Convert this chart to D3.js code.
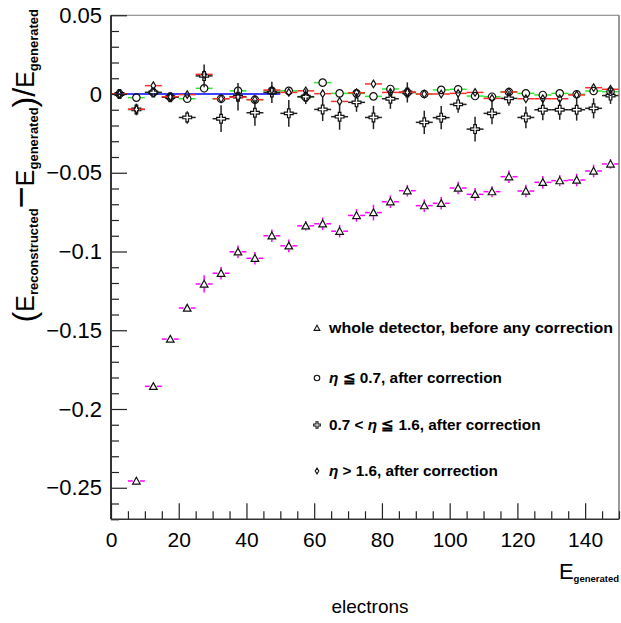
<!DOCTYPE html>
<html><head><meta charset="utf-8">
<script src="https://cdn.jsdelivr.net/npm/d3@7"></script>
<style>body{margin:0;background:#fff} svg{display:block;background:#fff}</style>
</head><body>
<svg id="c" width="621" height="623"></svg>
<script>
// ---------------- data ----------------
const energies = [2.5,7.5,12.5,17.5,22.5,27.5,32.5,37.5,42.5,47.5,52.5,57.5,62.5,67.5,72.5,77.5,82.5,87.5,92.5,97.5,102.5,107.5,112.5,117.5,122.5,127.5,132.5,137.5,142.5,147.5];
const binHalfWidth = 2.5;
// whole detector, before any correction (first bin empty)
const wholeDetector = [null,-0.2457,-0.1856,-0.1556,-0.1359,-0.1206,-0.1138,-0.1002,-0.1043,-0.0900,-0.0964,-0.0837,-0.0824,-0.0871,-0.0771,-0.0753,-0.0684,-0.0614,-0.0709,-0.0694,-0.0597,-0.0637,-0.0620,-0.0525,-0.0616,-0.0561,-0.0550,-0.0546,-0.0489,-0.0444];
const wholeDetectorErr = [0,0.001,0.001,0.0015,0.002,0.0055,0.004,0.004,0.004,0.004,0.004,0.003,0.004,0.004,0.004,0.005,0.004,0.0037,0.004,0.004,0.004,0.004,0.0035,0.004,0.004,0.004,0.0035,0.004,0.004,0.003];
// eta <= 0.7, after correction
const etaLow = [0,-0.0023,0.001,-0.002,-0.003,0.0036,-0.003,0.002,-0.0036,0.002,0.002,-0.002,0.0072,0.0004,0.0004,-0.0015,0.0032,0.001,0,0.0026,0.003,-0.0013,-0.0017,0.0013,0.0004,-0.0006,0.0004,-0.0002,0.0019,0.0015];
const etaLowErr = [0.001,0.0015,0.0015,0.0015,0.0015,0.002,0.0015,0.0015,0.0015,0.0015,0.0015,0.0015,0.0015,0.0015,0.0015,0.0015,0.0015,0.0015,0.0015,0.0015,0.0015,0.0015,0.0015,0.0015,0.0015,0.0015,0.0015,0.0015,0.0015,0.0015];
// 0.7 < eta <= 1.6, after correction
const etaMid = [0,-0.0098,0.001,-0.002,-0.0149,0.0115,-0.0157,-0.0017,-0.0119,0.001,-0.0123,-0.0017,-0.0098,-0.0144,-0.0053,-0.0149,-0.003,0.001,-0.018,-0.015,-0.0066,-0.0223,-0.0123,-0.0028,-0.0149,-0.010,-0.010,-0.010,-0.0091,-0.001];
const etaMidErr = [0.001,0.0037,0.003,0.002,0.004,0.0072,0.0085,0.0087,0.0083,0.0067,0.0085,0.0047,0.0074,0.0083,0.006,0.0074,0.0064,0.0064,0.0074,0.0074,0.0053,0.0079,0.0069,0.0047,0.0069,0.0066,0.0064,0.0069,0.0064,0.0053];
// eta > 1.6, after correction
const etaHigh = [0,-0.0097,0.0053,-0.0017,-0.0004,0.0125,-0.003,-0.002,-0.0036,0.0025,0.001,0.002,0.0002,-0.0047,0.0008,0.0064,0.001,0.0012,0,0,0.0004,0.001,-0.0028,0.0013,-0.003,-0.003,-0.003,-0.0006,0.004,0.003];
const etaHighErr = [0.001,0.0015,0.0015,0.0015,0.0015,0.002,0.0015,0.0015,0.0015,0.0015,0.0015,0.0015,0.0015,0.0015,0.0015,0.0015,0.0015,0.0015,0.0015,0.0015,0.0015,0.0015,0.0015,0.0015,0.0015,0.0015,0.0015,0.0015,0.0015,0.0015];
const referenceLineX = [0, 50];
const xTicks = [0,20,40,60,80,100,120,140];
const yTicks = [0.05,0,-0.05,-0.1,-0.15,-0.2,-0.25];
const yTickLabels = ["0.05","0","\u22120.05","\u22120.1","\u22120.15","\u22120.2","\u22120.25"];
const legendLabels = ["whole detector, before any correction","\u03b7 \u2266 0.7, after correction","0.7 < \u03b7 \u2266 1.6, after correction","\u03b7 > 1.6, after correction"];

// ---------------- layout ----------------
const svg = d3.select("#c");
const x = d3.scaleLinear().domain([0,150]).range([111,619]);
const y = d3.scaleLinear().domain([-0.27,0.05]).range([519.25,15.25]);
const axisColor = "#222";
const font = "Liberation Sans, Arial, sans-serif";

// marker shapes
const shapes = {
  triangle: {path: s => `M0,${-3.7*s}L${3.8*s},${3.1*s}L${-3.8*s},${3.1*s}Z`, half: 3.6},
  circle: {path: s => { const r=3.7*s; return `M${-r},0A${r},${r} 0 1,0 ${r},0A${r},${r} 0 1,0 ${-r},0Z`; }, half: 3.7},
  cross: {path: s => { const a=4.4*s,b=1.3*s; return `M${-b},${-a}L${b},${-a}L${b},${-b}L${a},${-b}L${a},${b}L${b},${b}L${b},${a}L${-b},${a}L${-b},${b}L${-a},${b}L${-a},${-b}L${-b},${-b}Z`; }, half: 4.4},
  diamond: {path: s => `M0,${-3.8*s}L${2.4*s},0L0,${3.8*s}L${-2.4*s},0Z`, half: 3.0}
};

const series = [
  {vals: wholeDetector, errs: wholeDetectorErr, shape: "triangle", color: "#ff00ff"},
  {vals: etaLow, errs: etaLowErr, shape: "circle", color: "#2ee82e"},
  {vals: etaMid, errs: etaMidErr, shape: "cross", color: "#222"},
  {vals: etaHigh, errs: etaHighErr, shape: "diamond", color: "#ff2a2a"}
];

// blue reference line at zero
svg.append("line")
  .attr("x1", x(referenceLineX[0])).attr("x2", x(referenceLineX[1]))
  .attr("y1", y(0)).attr("y2", y(0))
  .attr("stroke", "#0000ff").attr("stroke-width", 1.6);

series.forEach(s => {
  const g = svg.append("g");
  const shp = shapes[s.shape];
  energies.forEach((e, i) => {
    const v = s.vals[i];
    if (v === null) return;
    const cx = x(e), cy = y(v), gap = shp.half;
    const xl = x(e - binHalfWidth), xr = x(e + binHalfWidth);
    const yt = y(v + s.errs[i]), yb = y(v - s.errs[i]);
    const seg = (x1,y1,x2,y2) => g.append("line").attr("x1",x1).attr("y1",y1).attr("x2",x2).attr("y2",y2)
      .attr("stroke", s.color).attr("stroke-width", 1.5);
    seg(xl, cy, cx - gap, cy); seg(cx + gap, cy, xr, cy);
    if (cy - yt > gap) { seg(cx, yt, cx, cy - gap); seg(cx, cy + gap, cx, yb); }
  });
  energies.forEach((e, i) => {
    const v = s.vals[i];
    if (v === null) return;
    g.append("path").attr("d", shp.path(1))
      .attr("transform", `translate(${x(e)},${y(v)})`)
      .attr("fill", "none").attr("stroke", "#111").attr("stroke-width", 1.2);
  });
});

// frame
svg.append("line").attr("x1", x(0)).attr("x2", x(150)).attr("y1", y(0.05)).attr("y2", y(0.05)).attr("stroke", "#777").attr("stroke-width", 1.2);
svg.append("line").attr("x1", x(150)).attr("x2", x(150)).attr("y1", y(0.05)).attr("y2", y(-0.27)).attr("stroke", "#777").attr("stroke-width", 1.5);

// Y axis
const yMinor = d3.range(-27, 6).map(v => v / 100).filter(v => !yTicks.some(t => Math.abs(t - v) < 1e-9));
const gy = svg.append("g").attr("transform", `translate(${x(0)},0)`);
gy.call(d3.axisLeft(y).tickValues(yTicks).tickSize(-16).tickPadding(9).tickFormat((d, i) => yTickLabels[i]));
gy.append("g").call(d3.axisLeft(y).tickValues(yMinor).tickSize(-8).tickFormat(""));
gy.selectAll(".domain").remove();
gy.selectAll("line").attr("stroke", axisColor).attr("stroke-width", 1.2);
gy.selectAll("text").attr("font-family", font).attr("font-size", 22).attr("fill", "#000");
svg.append("line").attr("x1", x(0)).attr("x2", x(0)).attr("y1", y(0.05)).attr("y2", y(-0.27)).attr("stroke", "#333").attr("stroke-width", 2);

// X axis
const xMinor = d3.range(0, 151, 5).filter(v => v % 20 !== 0);
const gx = svg.append("g").attr("transform", `translate(0,${y(-0.27)})`);
gx.call(d3.axisBottom(x).tickValues(xTicks).tickSize(-16).tickPadding(13).tickFormat(d3.format("d")));
gx.append("g").call(d3.axisBottom(x).tickValues(xMinor).tickSize(-8).tickFormat(""));
gx.selectAll(".domain").remove();
gx.selectAll("line").attr("stroke", axisColor).attr("stroke-width", 1.2);
gx.selectAll("text").attr("font-family", font).attr("font-size", 21).attr("fill", "#000");
svg.append("line").attr("x1", x(0)).attr("x2", x(150)).attr("y1", y(-0.27)).attr("y2", y(-0.27)).attr("stroke", "#333").attr("stroke-width", 1.6);

// X title
const xt = svg.append("text").attr("x", 619).attr("y", 579).attr("text-anchor", "end")
  .attr("font-family", font).attr("fill", "#000");
xt.append("tspan").attr("font-size", 22).text("E");
xt.append("tspan").attr("font-size", 9.5).attr("font-weight", "bold").attr("dy", 3).text("generated");

svg.append("text").attr("x", 370).attr("y", 613).attr("text-anchor", "middle")
  .attr("font-family", font).attr("font-size", 19).attr("fill", "#000").text("electrons");

// Y title (rotated)
const yt = svg.append("text").attr("transform", "translate(34,9) rotate(-90)").attr("text-anchor", "end")
  .attr("font-family", font).attr("fill", "#000");
yt.append("tspan").attr("font-size", 32).attr("dy", 1).text("(");
yt.append("tspan").attr("font-size", 25).attr("dy", -1).text("E");
yt.append("tspan").attr("font-size", 13).attr("font-weight", "bold").attr("dy", 4).text("reconstructed");
yt.append("tspan").attr("font-size", 38).attr("dy", -4).text("\u2212");
yt.append("tspan").attr("font-size", 25).text("E");
yt.append("tspan").attr("font-size", 13).attr("font-weight", "bold").attr("dy", 4).text("generated");
yt.append("tspan").attr("font-size", 32).attr("dy", -3).text(")");
yt.append("tspan").attr("font-size", 32).text("/");
yt.append("tspan").attr("font-size", 25).attr("dy", -1).text("E");
yt.append("tspan").attr("font-size", 13).attr("font-weight", "bold").attr("dy", 4).text("generated");

// Legend
const legendY = [328, 378, 425, 471];
const legendShapes = ["triangle", "circle", "cross", "diamond"];
legendLabels.forEach((lab, i) => {
  svg.append("path").attr("d", shapes[legendShapes[i]].path(0.75))
    .attr("transform", `translate(317,${legendY[i]})`)
    .attr("fill", "none").attr("stroke", "#111").attr("stroke-width", 1.1);
  const t = svg.append("text").attr("x", 329).attr("y", legendY[i] + 5)
    .attr("font-family", font).attr("font-weight", "bold")
    .attr("font-size", 15.3).attr("fill", "#000");
  if (i === 0) t.attr("textLength", 284).attr("lengthAdjust", "spacingAndGlyphs");
  const parts = lab.split("\u03b7");
  parts.forEach((p, k) => {
    if (k > 0) t.append("tspan").attr("font-style", "italic").text("\u03b7");
    t.append("tspan").text(p);
  });
});
</script>
</body></html>
